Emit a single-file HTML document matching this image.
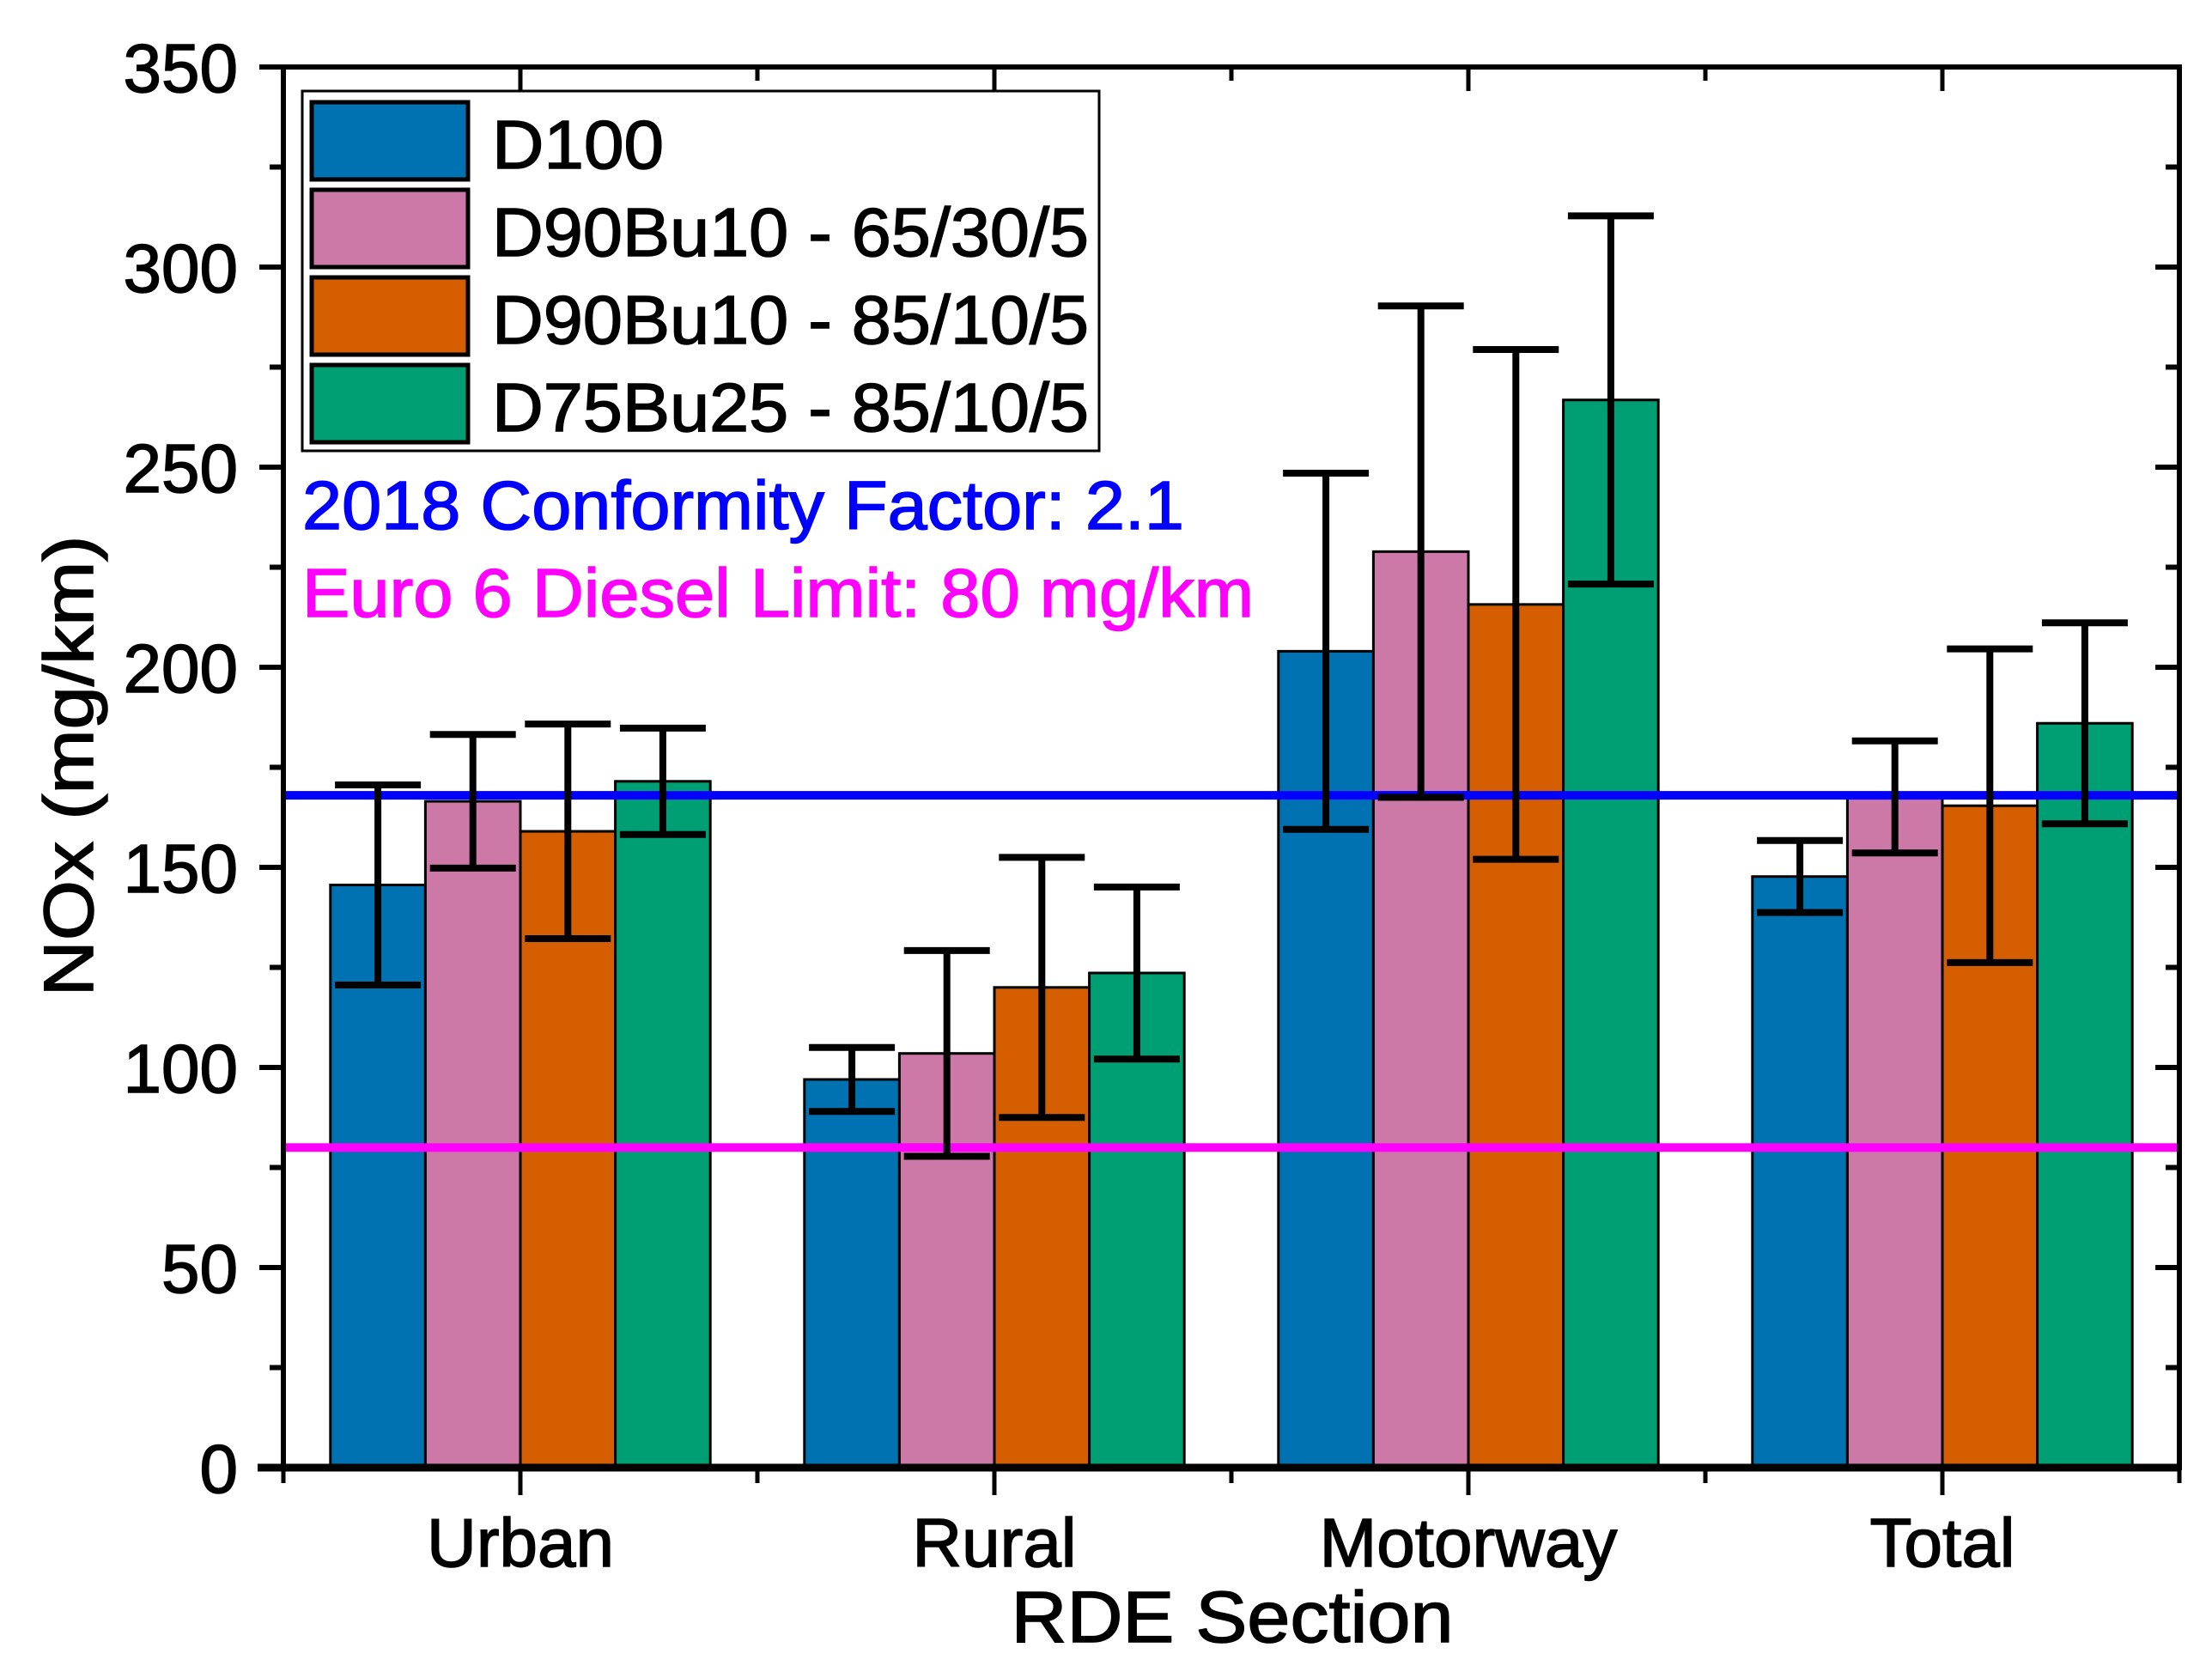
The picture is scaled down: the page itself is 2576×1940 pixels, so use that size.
<!DOCTYPE html>
<html><head><meta charset="utf-8">
<style>html,body{margin:0;padding:0;background:#fff}svg{display:block}text{font-family:"Liberation Sans",Arial,sans-serif;stroke:#000;stroke-width:1.5}</style>
</head><body>
<svg id="chart" width="2576" height="1940" viewBox="0 0 2576 1940" xmlns="http://www.w3.org/2000/svg">
<rect width="2576" height="1940" fill="#fff"/>
<g id="bars"></g>
<g id="lines"></g>
<g id="errs"></g>
<g id="axes"></g>
<g id="legend">
  <rect x="352" y="106" width="928" height="419" fill="#fff" stroke="#000" stroke-width="3"/>
</g>
<text x="352" y="616" font-size="80" fill="#0000ff" style="stroke:#0000ff" textLength="1027" lengthAdjust="spacingAndGlyphs">2018 Conformity Factor: 2.1</text>
<text x="352" y="718" font-size="80" fill="#ff00ff" style="stroke:#ff00ff" textLength="1108" lengthAdjust="spacingAndGlyphs">Euro 6 Diesel Limit: 80 mg/km</text>
<text transform="translate(108,892) rotate(-90)" text-anchor="middle" font-size="82" textLength="537" lengthAdjust="spacingAndGlyphs">NOx (mg/km)</text>
<text x="1435" y="1912" text-anchor="middle" font-size="84" textLength="515" lengthAdjust="spacingAndGlyphs">RDE Section</text>
</svg>
<script>
const categories = ["Urban", "Rural", "Motorway", "Total"];
const seriesNames = ["D100", "D90Bu10 - 65/30/5", "D90Bu10 - 85/10/5", "D75Bu25 - 85/10/5"];
const seriesColors = ["#0072b2", "#cc79a7", "#d55e00", "#009e73"];
const d100 = [145.6, 97, 204, 147.7];
const d90a = [166.5, 103.5, 228.9, 167.6];
const d90b = [159, 120, 215.7, 165.4];
const d75 = [171.5, 123.6, 266.8, 186];
const d100Err = [25, 8, 44.5, 9];
const d90aErr = [16.7, 25.7, 61.4, 14];
const d90bErr = [26.8, 32.5, 63.7, 39.2];
const d75Err = [13.3, 21.5, 46, 25.1];
const yTicks = [0, 50, 100, 150, 200, 250, 300, 350];
const conformityLimit = 168;
const euro6Limit = 80;

const NS = "http://www.w3.org/2000/svg";
const L = 330, R = 2538, T = 78, B = 1709, yMax = 350;
const y = v => B - v / yMax * (B - T);
const x = i => L + i * (R - L) / categories.length;
const barW = 110.6;
function mk(tag, attrs, parent) {
  const e = document.createElementNS(NS, tag);
  for (const k in attrs) e.setAttribute(k, attrs[k]);
  parent.appendChild(e); return e;
}
const series = [d100, d90a, d90b, d75];
const errs = [d100Err, d90aErr, d90bErr, d75Err];
const gb = document.getElementById('bars'), ge = document.getElementById('errs');
series.forEach((s, si) => {
  s.forEach((v, ci) => {
    const cx = x(ci + 0.5) + (si - 1.5) * barW;
    const r = mk('rect', {x: cx - barW / 2, y: y(v), width: barW, height: B - y(v), fill: seriesColors[si], stroke: '#000', 'stroke-width': 3}, gb);
    
    
    const e = errs[si][ci];
    const g = mk('g', {stroke: '#000', 'stroke-width': 8}, ge);
    
    
    mk('line', {x1: cx, x2: cx, y1: y(v + e), y2: y(v - e)}, g);
    mk('line', {x1: cx - 50, x2: cx + 50, y1: y(v + e), y2: y(v + e)}, g);
    mk('line', {x1: cx - 50, x2: cx + 50, y1: y(v - e), y2: y(v - e)}, g);
  });
});
const gl = document.getElementById('lines');
const l1 = mk('line', {x1: L, x2: R, y1: y(conformityLimit), y2: y(conformityLimit), stroke: '#0000ff', 'stroke-width': 10}, gl);


const l2 = mk('line', {x1: L, x2: R, y1: y(euro6Limit), y2: y(euro6Limit), stroke: '#ff00ff', 'stroke-width': 10}, gl);



const ga = document.getElementById('axes');
const frame = mk('rect', {x: L, y: T, width: R - L, height: B - T, fill: 'none', stroke: '#000', 'stroke-width': 6}, ga);


mk('line', {x1: L - 30, x2: R, y1: B, y2: B, stroke: '#000', 'stroke-width': 9}, ga);
yTicks.forEach(t => {
  mk('line', {x1: L - 28, x2: L, y1: y(t), y2: y(t), stroke: '#000', 'stroke-width': 6}, ga);
  mk('line', {x1: R, x2: R - 28, y1: y(t), y2: y(t), stroke: '#000', 'stroke-width': 6}, ga);
  if (t < yMax) {
    mk('line', {x1: L - 16, x2: L, y1: y(t + 25), y2: y(t + 25), stroke: '#000', 'stroke-width': 6}, ga);
    mk('line', {x1: R, x2: R - 16, y1: y(t + 25), y2: y(t + 25), stroke: '#000', 'stroke-width': 6}, ga);
  }
  const tx = mk('text', {x: 277, y: y(t) + 29, 'text-anchor': 'end', 'font-size': 80}, ga);
  tx.textContent = t;
  
  
});
for (let i = 0; i <= categories.length; i++) {
  mk('line', {x1: x(i), x2: x(i), y1: B, y2: B + 18, stroke: '#000', 'stroke-width': 5}, ga);
  mk('line', {x1: x(i), x2: x(i), y1: T, y2: T + 16, stroke: '#000', 'stroke-width': 5}, ga);
}
categories.forEach((c, i) => {
  const cx = x(i + 0.5);
  mk('line', {x1: cx, x2: cx, y1: B, y2: B + 32, stroke: '#000', 'stroke-width': 5}, ga);
  mk('line', {x1: cx, x2: cx, y1: T, y2: T + 28, stroke: '#000', 'stroke-width': 5}, ga);
  const tx = mk('text', {x: cx, y: 1824, 'text-anchor': 'middle', 'font-size': 80}, ga);
  tx.textContent = c;
  
  
});

const gleg = document.getElementById('legend');
const legW = [200, 695, 695, 695];
seriesNames.forEach((n, i) => {
  const ry = 119 + i * 102;
  const sw = mk('rect', {x: 363, y: ry, width: 182, height: 90, fill: seriesColors[i], stroke: '#000', 'stroke-width': 5}, gleg);
  
  
  const tx = mk('text', {x: 573, y: ry + 77, 'font-size': 80, textLength: legW[i], lengthAdjust: 'spacingAndGlyphs'}, gleg);
  tx.textContent = n;
  
  
});
</script>
</body></html>
